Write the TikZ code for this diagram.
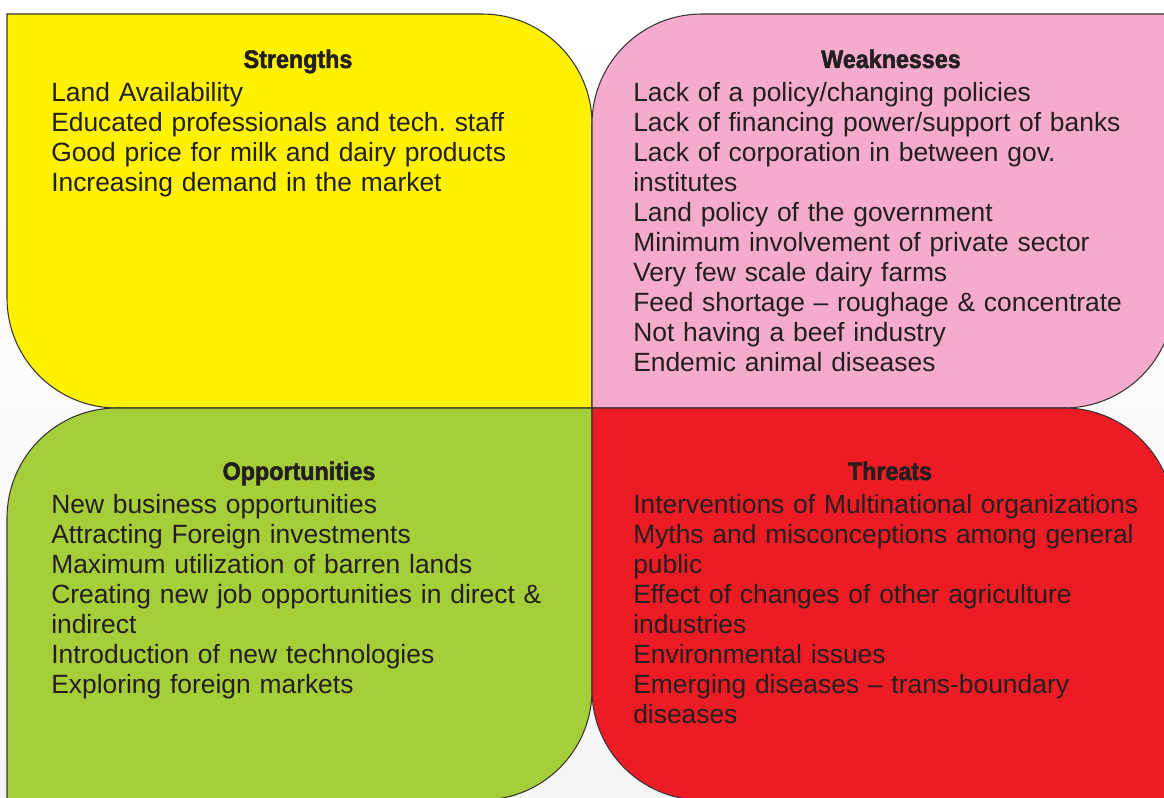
\documentclass[tikz,border=0pt]{standalone}
\usepackage{fontspec}
\setmainfont{Liberation Sans}
\newfontfamily\titlefont[FakeStretch=0.92,FakeBold=2]{Liberation Sans Bold}
\frenchspacing
\definecolor{swotyellow}{HTML}{FFF200}
\definecolor{swotpink}{HTML}{F5ABCB}
\definecolor{swotgreen}{HTML}{A6CE39}
\definecolor{swotred}{HTML}{ED1C24}
\definecolor{inkgray}{HTML}{231F20}
\tikzset{
  quad/.style={draw=inkgray!90, line width=0.8pt},
  title/.style={font=\titlefont\fontsize{19}{20}\selectfont, text=inkgray, inner sep=0pt, anchor=base},
  items/.style={font=\fontsize{19.8}{22.5}\selectfont, text=inkgray, inner sep=0pt, anchor=base west, text width=420pt, align=left}
}
\begin{document}
\begin{tikzpicture}[x=0.75pt, y=0.75pt]
    \useasboundingbox (0,0) rectangle (1164,798);
    % Background
    \shade[top color=white, bottom color=gray!7] (0,0) rectangle (1164,798);
    \clip (0,0) rectangle (1164,798);

    % Quadrants
    \filldraw[quad, fill=swotyellow] (7,784) -- (482,784) arc[start angle=90, end angle=0, radius=110]
        -- (592,390) -- (117,390) arc[start angle=270, end angle=180, radius=110] -- cycle;
    \filldraw[quad, fill=swotpink] (592,674) arc[start angle=180, end angle=90, radius=110]
        -- (1174,784) -- (1174,500) arc[start angle=0, end angle=-90, radius=110] -- (592,390) -- cycle;
    \filldraw[quad, fill=swotgreen] (7,280) arc[start angle=180, end angle=90, radius=110]
        -- (592,390) -- (592,108) arc[start angle=0, end angle=-90, radius=110] -- (7,-2) -- cycle;
    \filldraw[quad, fill=swotred] (592,390) -- (1064,390) arc[start angle=90, end angle=0, radius=110]
        -- (1174,-2) -- (702,-2) arc[start angle=270, end angle=180, radius=110] -- cycle;

    % Strengths
    \node[title] (strengths) at (298,730) {Strengths};
    \node[items] (strengthsList) at (51,696) {Land Availability\\
        Educated professionals and tech. staff\\
        Good price for milk and dairy products\\
        Increasing demand in the market};

    % Weaknesses
    \node[title] (weaknesses) at (891,730) {Weaknesses};
    \node[items] (weaknessesList) at (633,696) {Lack of a policy/changing policies\\
        Lack of financing power/support of banks\\
        Lack of corporation in between gov.\\
        institutes\\
        Land policy of the government\\
        Minimum involvement of private sector\\
        Very few scale dairy farms\\
        Feed shortage -- roughage \& concentrate\\
        Not having a beef industry\\
        Endemic animal diseases};

    % Opportunities
    \node[title] (opportunities) at (299,318) {Opportunities};
    \node[items] (opportunitiesList) at (51,284) {New business opportunities\\
        Attracting Foreign investments\\
        Maximum utilization of barren lands\\
        Creating new job opportunities in direct \&\\
        indirect\\
        Introduction of new technologies\\
        Exploring foreign markets};

    % Threats
    \node[title] (threats) at (890,318) {Threats};
    \node[items] (threatsList) at (633,284) {Interventions of Multinational organizations\\
        Myths and misconceptions among general\\
        public\\
        Effect of changes of other agriculture\\
        industries\\
        Environmental issues\\
        Emerging diseases -- trans-boundary\\
        diseases};
\end{tikzpicture}
\end{document}
